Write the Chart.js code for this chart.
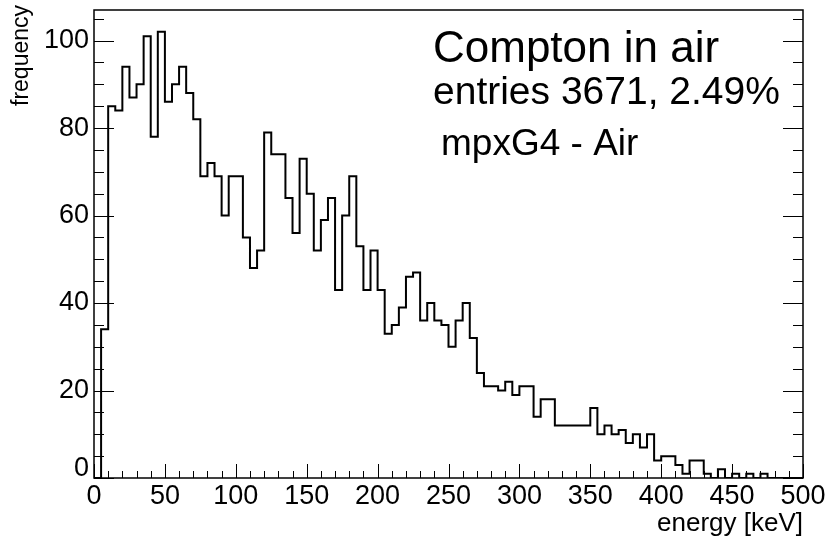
<!DOCTYPE html>
<html><head><meta charset="utf-8">
<script src="https://cdn.jsdelivr.net/npm/chart.js@4.4.1/dist/chart.umd.min.js"></script>
<style>html,body{margin:0;padding:0;background:#fff;}#wrap{width:830px;height:536px;}</style>
</head><body><div id="wrap"><canvas id="c" width="830" height="536"></canvas></div>
<script>
// bin edges in keV (5 keV bins)
const binEdges = [0,5,10,15,20,25,30,35,40,45,50,55,60,65,70,75,80,85,90,95,
  100,105,110,115,120,125,130,135,140,145,150,155,160,165,170,175,180,185,190,195,
  200,205,210,215,220,225,230,235,240,245,250,255,260,265,270,275,280,285,290,295,
  300,305,310,315,320,325,330,335,340,345,350,355,360,365,370,375,380,385,390,395,
  400,405,410,415,420,425,430,435,440,445,450,455,460,465,470,475,480,485,490,495,500];
// counts per bin
const counts = [0,34,85,84,94,87,90,101,78,102,86,90,94,88,82,69,72,69,60,69,
  69,55,48,52,79,74,74,64,56,73,65,52,59,64,43,60,69,53,43,52,
  43,33,35,39,46,47,36,40,36,35,30,36,40,32,24,21,21,20,22,19,
  21,21,14,18,18,12,12,12,12,12,16,10,12,10,11,8,10,7,10,4,
  5,5,3,1,4,4,1,0,2,0,1,0,1,0,1,0,0,0,0,0];
const xTickValues = [0,50,100,150,200,250,300,350,400,450,500];
const yTickValues = [0,20,40,60,80,100];
const infoLines = ["Compton in air", "entries 3671, 2.49%", "mpxG4 - Air"];
const xTitle = "energy [keV]";
const yTitle = "frequency";

const FONT = "'Liberation Sans', Arial, Helvetica, sans-serif";
const TICKFONT = 27;
const points = [];
for (let i = 0; i < counts.length; i++) points.push({x: binEdges[i], y: counts[i]});
points.push({x: binEdges[binEdges.length - 1], y: 0});

const rootDecor = {
  id: 'rootDecor',
  afterDraw(chart) {
    const ctx = chart.ctx, a = chart.chartArea;
    const xs = chart.scales.x, ys = chart.scales.y;
    ctx.save();
    ctx.strokeStyle = '#000';
    ctx.lineWidth = 1;
    ctx.beginPath();
    for (let v = ys.min; v <= ys.max + 1e-9; v += 5) {
      const py = Math.round(ys.getPixelForValue(v)) + 0.5;
      const len = (v % 20 === 0) ? 20 : 10;
      ctx.moveTo(a.left, py); ctx.lineTo(a.left + len, py);
      ctx.moveTo(a.right, py); ctx.lineTo(a.right - len, py);
    }
    for (let v = xs.min; v <= xs.max + 1e-9; v += 10) {
      const px = Math.round(xs.getPixelForValue(v)) + 0.5;
      const len = (v % 50 === 0) ? 14 : 7;
      ctx.moveTo(px, a.bottom); ctx.lineTo(px, a.bottom - len);
    }
    ctx.stroke();
    ctx.lineWidth = 1.5;
    ctx.strokeRect(a.left, a.top, a.right - a.left, a.bottom - a.top);
    ctx.fillStyle = '#000';
    // raised zero label of the y axis (ROOT style)
    ctx.font = TICKFONT + 'px ' + FONT;
    ctx.textAlign = 'right';
    ctx.textBaseline = 'middle';
    ctx.fillText(String(yTickValues[0]), a.left - 5, ys.getPixelForValue(yTickValues[0]) - 9);
    ctx.textBaseline = 'alphabetic';
    ctx.font = '26px ' + FONT;
    ctx.fillText(xTitle, a.right, 531);
    ctx.font = '23px ' + FONT;
    ctx.save();
    ctx.translate(28, a.top - 5);
    ctx.rotate(-Math.PI / 2);
    ctx.fillText(yTitle, 0, 0);
    ctx.restore();
    ctx.textAlign = 'left';
    ctx.font = '44px ' + FONT;
    ctx.fillText(infoLines[0], 433, 62);
    ctx.font = '39px ' + FONT;
    ctx.fillText(infoLines[1], 433, 104);
    ctx.font = '37px ' + FONT;
    ctx.fillText(infoLines[2], 441, 155);
    ctx.restore();
  }
};

new Chart(document.getElementById('c'), {
  type: 'line',
  data: { datasets: [{ data: points, stepped: true, borderColor: '#000', borderWidth: 2,
    pointRadius: 0, fill: false, tension: 0 }] },
  options: {
    responsive: false, animation: false,
    layout: { padding: { top: 10, right: 27, left: 0, bottom: 0 } },
    plugins: { legend: { display: false }, tooltip: { enabled: false } },
    scales: {
      x: {
        type: 'linear', min: 0, max: 500,
        afterBuildTicks: s => { s.ticks = xTickValues.map(v => ({ value: v })); },
        afterFit: s => { s.height = 58; s.paddingLeft = 0; s.paddingRight = 0; },
        grid: { display: false, drawTicks: false },
        border: { display: false },
        ticks: { color: '#000', font: { family: FONT, size: TICKFONT }, padding: 2, maxRotation: 0, autoSkip: false }
      },
      y: {
        type: 'linear', min: 0, max: 107,
        afterBuildTicks: s => { s.ticks = yTickValues.map(v => ({ value: v })); },
        afterFit: s => { s.width = 94; s.paddingTop = 0; s.paddingBottom = 0; },
        grid: { display: false, drawTicks: false },
        border: { display: false },
        ticks: { color: '#000', font: { family: FONT, size: TICKFONT }, padding: 5, autoSkip: false,
          callback: v => (v === yTickValues[0] ? '' : String(v)) }
      }
    }
  },
  plugins: [rootDecor]
});
</script></body></html>
